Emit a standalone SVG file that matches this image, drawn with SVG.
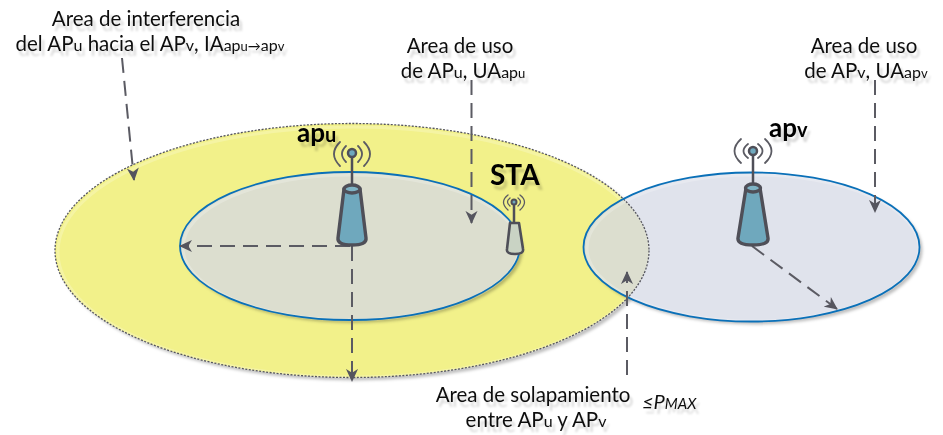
<svg xmlns="http://www.w3.org/2000/svg" width="943" height="435" viewBox="0 0 943 435">
<style>
text{font-family:"Lato","Open Sans",sans-serif;fill:#111;filter:url(#ts)}
.l{font-size:20.500px;text-anchor:middle}
.s{font-size:16px}
.x{font-size:13px}
.b{font-size:26px;font-weight:700;fill:#000}
.bs{font-size:20px}
.c{fill:none;stroke:#5b5b63;stroke-width:2;stroke-dasharray:15 8}
.a{stroke:#4f4f58;stroke-width:3.400;fill:#6fa8bd;stroke-linejoin:round}
.t{fill:#7fb4c6}
.w{fill:none;stroke:#5b5b63;stroke-width:1.800;stroke-linecap:round}
.m{fill:none;stroke:#4f4f58;stroke-width:2.500}
.h{fill:none;stroke:#fff;stroke-width:3;stroke-opacity:.22}
.o{fill:none;stroke:#0a70b8;stroke-width:1.800}
</style>
<defs>
<filter id="ts" x="-10%" y="-20%" width="120%" height="170%"><feDropShadow dx="3" dy="5" stdDeviation="1" flood-color="#000" flood-opacity=".16"/></filter>
<filter id="es" x="-5%" y="-5%" width="110%" height="115%"><feDropShadow dx="3" dy="3" stdDeviation="1.500" flood-color="#000" flood-opacity=".25"/></filter>
<marker id="ah" viewBox="0 0 14 14" refX="13" refY="7" markerWidth="13" markerHeight="13" markerUnits="userSpaceOnUse" orient="auto"><path d="M0 0.500 L14 7 L0 13.500 L4 7Z" fill="#55555e"/></marker>
<clipPath id="yc"><ellipse cx="352" cy="250.500" rx="297" ry="127"/></clipPath>
</defs>
<g id="area-interferencia">
<ellipse cx="352" cy="250.500" rx="297" ry="127" fill="#f2f18a" filter="url(#es)"/>
<ellipse cx="353" cy="252" rx="295" ry="125" class="h"/>
</g>
<g id="area-uso-v">
<ellipse cx="751.500" cy="247" rx="168" ry="74.500" fill="#e0e3ec" filter="url(#es)"/>
<ellipse cx="751.500" cy="247" rx="168" ry="74.500" fill="#dcdecf" clip-path="url(#yc)"/>
<ellipse cx="753" cy="248" rx="166" ry="73" class="h"/>
</g>
<g id="area-uso-u">
<ellipse cx="350" cy="246" rx="170" ry="74" fill="#dcdecf" filter="url(#es)"/>
<ellipse cx="351" cy="247.500" rx="168" ry="72.500" class="h"/>
<ellipse cx="350" cy="246" rx="170" ry="74" class="o"/>
</g>
<ellipse cx="352" cy="250.500" rx="297" ry="127" fill="none" stroke="#55555e" stroke-width="1.300" stroke-dasharray="2 1.500"/>
<ellipse cx="751.500" cy="247" rx="168" ry="74.500" class="o"/>
<g id="connectors">
<path class="c" d="M122 58L134 180" marker-end="url(#ah)"/>
<path class="c" d="M471.500 80V223" marker-end="url(#ah)"/>
<path class="c" d="M875 80V212" marker-end="url(#ah)"/>
<path class="c" d="M627 375V272" marker-end="url(#ah)"/>
<path class="c" d="M350 246H180" marker-end="url(#ah)"/>
<path class="c" d="M352 246V381" marker-end="url(#ah)"/>
<path class="c" d="M752 246L837 309" marker-end="url(#ah)"/>
</g>
<g id="ap-u">
<path class="w" d="M340 142Q328 154 340 166M346 146Q338 154 346 162M364 142Q376 154 364 166M358 146Q366 154 358 162"/>
<path class="m" d="M352 153V186"/>
<circle cx="352" cy="153" r="4" fill="#6fa8bd" stroke="#4f4f58" stroke-width="2.500"/>
<path class="a" d="M344 189 L338 238 Q337 245 352 245 Q367 245 366 238 L360 189Z"/>
<ellipse cx="352" cy="189" rx="8" ry="4" class="a t"/>
</g>
<g id="ap-v">
<path class="w" d="M741 139Q728 151 741 163M748 144Q739 151 748 158M765 139Q778 151 765 163M758 144Q767 151 758 158"/>
<path class="m" d="M753 151V185"/>
<circle cx="753" cy="151" r="4" fill="#6fa8bd" stroke="#4f4f58" stroke-width="2.500"/>
<path class="a" d="M746 188 L738 238 Q737 245 753 245 Q769 245 768 238 L760 188Z"/>
<ellipse cx="753" cy="188" rx="7.500" ry="4" class="a t"/>
</g>
<g id="sta">
<path class="w" d="M508 195Q499 202 508 210M510 198Q505 202 510 206M520 195Q529 202 520 210M518 198Q523 202 518 206" style="stroke-width:1.300"/>
<path class="m" d="M514 203V222"/>
<circle cx="514" cy="202" r="2.500" fill="#6fa8bd" stroke="#4f4f58" stroke-width="2"/>
<path d="M510 223 L507 249 Q506 254 515 254 Q524 254 523 249 L519 223Z" fill="#c9d3c4" stroke="#4f4f58" stroke-width="2.600" stroke-linejoin="round"/>
</g>
<g id="labels">
<text class="l" x="146" y="26">Area de interferencia</text>
<text class="l" x="150" y="51">del AP<tspan class="s">u</tspan> hacia el AP<tspan class="s">v</tspan>, IA<tspan class="s">ap</tspan><tspan class="x">u→</tspan><tspan class="s">ap</tspan><tspan class="x">v</tspan></text>
<text class="l" x="460" y="53">Area de uso</text>
<text class="l" x="463" y="78">de AP<tspan class="s">u</tspan>, UA<tspan class="s">ap</tspan><tspan class="x">u</tspan></text>
<text class="l" x="864" y="53">Area de uso</text>
<text class="l" x="866" y="78">de AP<tspan class="s">v</tspan>, UA<tspan class="s">ap</tspan><tspan class="x">v</tspan></text>
<text class="l" x="533" y="402">Area de solapamiento</text>
<text class="l" x="536" y="427">entre AP<tspan class="s">u</tspan> y AP<tspan class="s">v</tspan></text>
<text x="642" y="409" font-size="20" font-style="italic">≤P<tspan font-size="15">MAX</tspan></text>
<text class="b" x="297" y="142">ap<tspan class="bs">u</tspan></text>
<text class="b" x="769" y="137">ap<tspan class="bs">v</tspan></text>
<text class="b" x="490" y="185" style="font-size:28px">STA</text>
</g>
</svg>
